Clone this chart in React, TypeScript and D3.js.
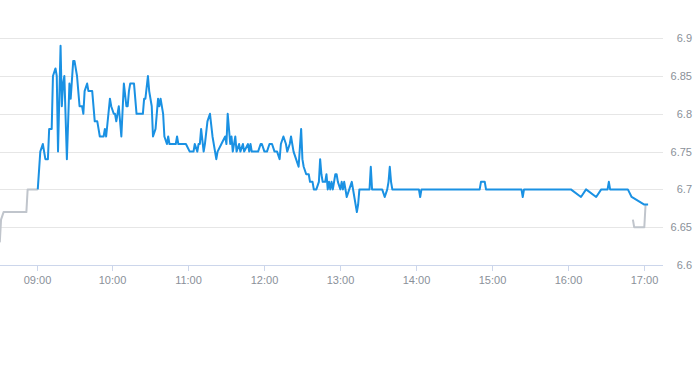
import React, { useEffect, useRef } from "react";
import * as d3 from "d3";

// pre-market (grey)
const preTimes = ["08:31", "08:32", "08:34", "08:52", "08:53", "09:01"];
const preValues = [6.63, 6.66, 6.67, 6.67, 6.7, 6.7];

// trading session (blue)
const dayTimes = [
  "09:01", "09:03", "09:05", "09:07", "09:09", "09:10", "09:12", "09:13", "09:15", "09:16",
  "09:17", "09:19", "09:20", "09:21", "09:22", "09:24", "09:26", "09:27", "09:29", "09:30",
  "09:32", "09:34", "09:36", "09:37", "09:38", "09:40", "09:41", "09:44", "09:46", "09:48",
  "09:49", "09:50", "09:53", "09:54", "09:55", "09:58", "09:59", "10:01", "10:02", "10:03",
  "10:05", "10:07", "10:09", "10:11", "10:12", "10:13", "10:14", "10:17", "10:19", "10:24",
  "10:25", "10:26", "10:28", "10:29", "10:31", "10:32", "10:34", "10:36", "10:37", "10:38",
  "10:40", "10:41", "10:43", "10:44", "10:45", "10:50", "10:51", "10:52", "10:58", "11:01",
  "11:04", "11:05", "11:07", "11:08", "11:09", "11:10", "11:12", "11:13", "11:15", "11:17",
  "11:19", "11:22", "11:23", "11:26", "11:29", "11:30", "11:31", "11:33", "11:34", "11:35",
  "11:37", "11:38", "11:40", "11:41", "11:43", "11:44", "11:47", "11:48", "11:49", "11:50",
  "11:55", "11:57", "11:58", "12:00", "12:02", "12:04", "12:06", "12:08", "12:10", "12:12",
  "12:13", "12:15", "12:17", "12:18", "12:20", "12:21", "12:23", "12:25", "12:27", "12:29",
  "12:30", "12:31", "12:33", "12:35", "12:36", "12:38", "12:39", "12:41", "12:43", "12:44",
  "12:45", "12:46", "12:48", "12:49", "12:50", "12:51", "12:52", "12:53", "12:54", "12:56",
  "12:57", "12:58", "13:00", "13:01", "13:02", "13:03", "13:04", "13:05", "13:07", "13:09",
  "13:11", "13:13", "13:14", "13:15", "13:23", "13:24", "13:25", "13:33", "13:35", "13:37",
  "13:38", "13:39", "13:40", "13:41", "14:02", "14:03", "14:04", "14:50", "14:51", "14:54",
  "14:55", "15:23", "15:24", "15:25", "16:02", "16:10", "16:14", "16:22", "16:26", "16:31",
  "16:32", "16:33", "16:47", "16:50", "17:00", "17:03",
];
const dayValues = [
  6.70, 6.75, 6.76, 6.74, 6.74, 6.78, 6.78, 6.85, 6.86, 6.85,
  6.75, 6.89, 6.81, 6.84, 6.85, 6.74, 6.84, 6.82, 6.87, 6.87,
  6.85, 6.81, 6.81, 6.80, 6.83, 6.84, 6.83, 6.83, 6.79, 6.79,
  6.78, 6.77, 6.77, 6.78, 6.77, 6.82, 6.81, 6.80, 6.80, 6.79,
  6.81, 6.77, 6.84, 6.81, 6.81, 6.83, 6.84, 6.84, 6.80, 6.80,
  6.82, 6.82, 6.85, 6.83, 6.81, 6.77, 6.78, 6.82, 6.81, 6.82,
  6.80, 6.77, 6.76, 6.77, 6.76, 6.76, 6.77, 6.76, 6.76, 6.75,
  6.75, 6.76, 6.75, 6.76, 6.76, 6.78, 6.75, 6.76, 6.79, 6.80,
  6.77, 6.74, 6.75, 6.76, 6.77, 6.76, 6.80, 6.76, 6.77, 6.75,
  6.77, 6.75, 6.76, 6.75, 6.76, 6.75, 6.76, 6.75, 6.76, 6.75,
  6.75, 6.76, 6.76, 6.75, 6.75, 6.76, 6.76, 6.75, 6.75, 6.74,
  6.76, 6.77, 6.76, 6.75, 6.76, 6.77, 6.75, 6.74, 6.73, 6.78,
  6.74, 6.73, 6.72, 6.72, 6.71, 6.71, 6.70, 6.70, 6.71, 6.74,
  6.72, 6.71, 6.71, 6.72, 6.70, 6.71, 6.70, 6.71, 6.70, 6.72,
  6.72, 6.71, 6.70, 6.71, 6.70, 6.71, 6.70, 6.69, 6.70, 6.71,
  6.69, 6.67, 6.68, 6.70, 6.70, 6.73, 6.70, 6.70, 6.69, 6.70,
  6.71, 6.73, 6.71, 6.70, 6.70, 6.69, 6.70, 6.70, 6.71, 6.71,
  6.70, 6.70, 6.69, 6.70, 6.70, 6.69, 6.70, 6.69, 6.70, 6.70,
  6.71, 6.70, 6.70, 6.69, 6.68, 6.68,
];

// after close (grey)
const postTimes = ["16:51", "16:52", "17:00", "17:01"];
const postValues = [6.66, 6.65, 6.65, 6.68];

const xTickLabels = ["09:00", "10:00", "11:00", "12:00", "13:00", "14:00", "15:00", "16:00", "17:00"];
const yTicks = [6.6, 6.65, 6.7, 6.75, 6.8, 6.85, 6.9];

const W = 693;
const H = 365;

const App = () => {
  const ref = useRef<SVGSVGElement>(null);

  useEffect(() => {
    const svg = d3.select(ref.current);
    svg.selectAll("*").remove();

    const parse = d3.timeParse("%H:%M");
    const plotRight = 663;
    const plotBottom = 265;

    const x = d3.scaleTime()
      .domain([parse("09:00")!, parse("17:00")!])
      .range([36.5, 644.3]);
    const y = d3.scaleLinear().domain([6.6, 6.9]).range([plotBottom, 38.2]);

    // grid
    svg.append("g")
      .selectAll("line")
      .data(yTicks.slice(1))
      .join("line")
      .attr("x1", 0)
      .attr("x2", plotRight)
      .attr("y1", d => Math.round(y(d)) + 0.5)
      .attr("y2", d => Math.round(y(d)) + 0.5)
      .attr("stroke", "#e6e6e6");

    // y labels on the right
    svg.append("g")
      .selectAll("text")
      .data(yTicks)
      .join("text")
      .attr("x", 692)
      .attr("y", d => y(d) + 4)
      .attr("text-anchor", "end")
      .attr("font-family", "Liberation Sans, Arial, sans-serif")
      .attr("font-size", 11)
      .attr("fill", "#8a9099")
      .text(d => String(d));

    // x axis
    const xAxis = svg.append("g");
    xAxis.append("line")
      .attr("x1", 0)
      .attr("x2", plotRight)
      .attr("y1", plotBottom + 0.5)
      .attr("y2", plotBottom + 0.5)
      .attr("stroke", "#ccd6eb");
    const ticks = xAxis.selectAll("g.tick")
      .data(xTickLabels)
      .join("g")
      .attr("class", "tick")
      .attr("transform", d => `translate(${Math.round(x(parse(d)!)) + 0.5},0)`);
    ticks.append("line")
      .attr("y1", plotBottom)
      .attr("y2", plotBottom + 6)
      .attr("stroke", "#ccd6eb");
    ticks.append("text")
      .attr("y", plotBottom + 19)
      .attr("text-anchor", "middle")
      .attr("font-family", "Liberation Sans, Arial, sans-serif")
      .attr("font-size", 11)
      .attr("fill", "#8a9099")
      .text(d => d);

    // clip to plot area
    svg.append("clipPath").attr("id", "plot-clip")
      .append("rect")
      .attr("x", 0).attr("y", 0)
      .attr("width", plotRight).attr("height", plotBottom);

    const line = d3.line<[Date, number]>()
      .x(d => x(d[0]))
      .y(d => y(d[1]));

    const series = (times: string[], values: number[]) =>
      times.map((t, i) => [parse(t)!, values[i]] as [Date, number]);

    const lines = svg.append("g").attr("clip-path", "url(#plot-clip)");
    lines.append("path")
      .attr("d", line(series(preTimes, preValues)))
      .attr("fill", "none")
      .attr("stroke", "#c0c5cc")
      .attr("stroke-width", 2)
      .attr("stroke-linejoin", "round");
    lines.append("path")
      .attr("d", line(series(postTimes, postValues)))
      .attr("fill", "none")
      .attr("stroke", "#c0c5cc")
      .attr("stroke-width", 2)
      .attr("stroke-linejoin", "round");
    lines.append("path")
      .attr("d", line(series(dayTimes, dayValues)))
      .attr("fill", "none")
      .attr("stroke", "#1a91e3")
      .attr("stroke-width", 2)
      .attr("stroke-linejoin", "round");
  }, []);

  return (
    <svg
      ref={ref}
      width={W}
      height={H}
      style={{ position: "absolute", left: 0, top: 0, background: "#fff" }}
    />
  );
};

export default App;
